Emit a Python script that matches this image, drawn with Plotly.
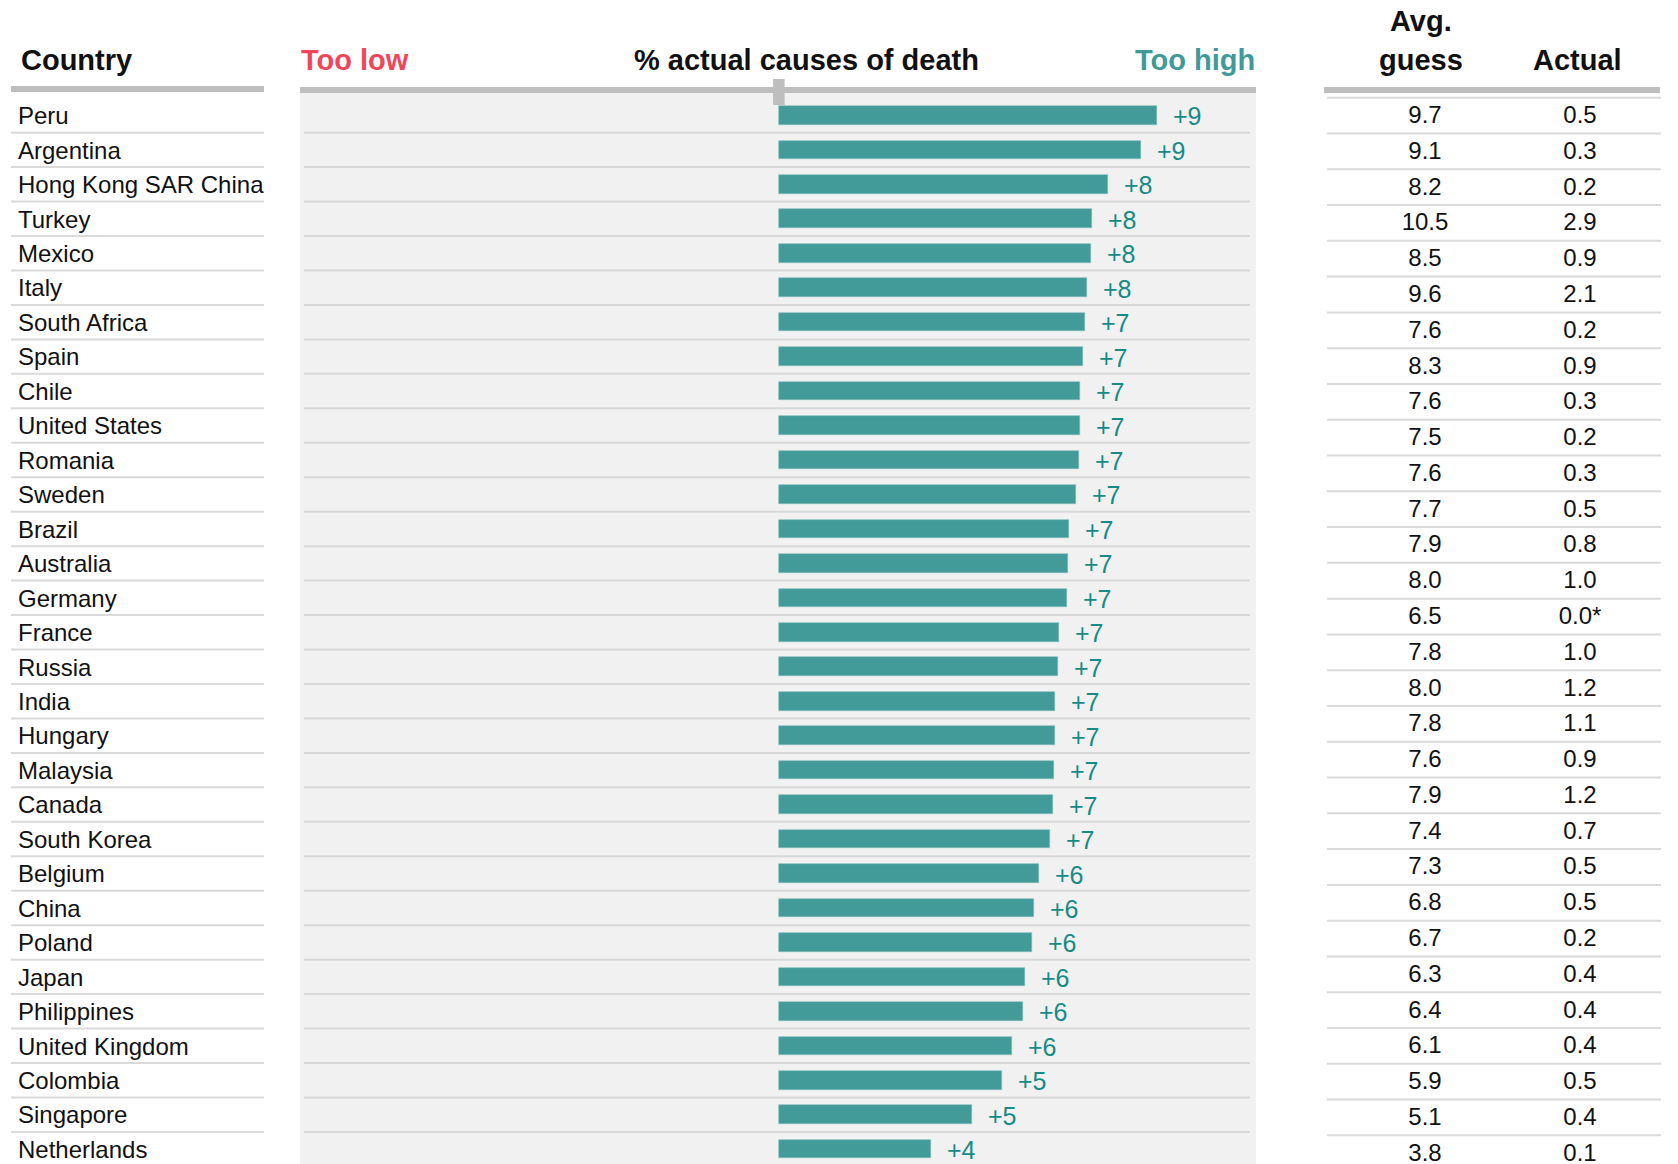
import plotly.graph_objects as go

W, H = 1678, 1164

countries = ["Peru", "Argentina", "Hong Kong SAR China", "Turkey", "Mexico", "Italy",
             "South Africa", "Spain", "Chile", "United States", "Romania", "Sweden",
             "Brazil", "Australia", "Germany", "France", "Russia", "India", "Hungary",
             "Malaysia", "Canada", "South Korea", "Belgium", "China", "Poland", "Japan",
             "Philippines", "United Kingdom", "Colombia", "Singapore", "Netherlands"]

# gap between guess and actual, percentage points
gap = [9.2, 8.8, 8.0, 7.63, 7.6, 7.5, 7.45, 7.4, 7.32, 7.32, 7.3, 7.24, 7.06, 7.03,
       7.0, 6.82, 6.8, 6.72, 6.72, 6.7, 6.67, 6.59, 6.33, 6.2, 6.15, 5.99, 5.94,
       5.68, 5.42, 4.71, 3.7]
gap_labels = ["+9", "+9", "+8", "+8", "+8", "+8"] + ["+7"] * 16 + ["+6"] * 6 + ["+5", "+5", "+4"]

avg_guess = [9.7, 9.1, 8.2, 10.5, 8.5, 9.6, 7.6, 8.3, 7.6, 7.5, 7.6, 7.7, 7.9, 8.0, 6.5,
             7.8, 8.0, 7.8, 7.6, 7.9, 7.4, 7.3, 6.8, 6.7, 6.3, 6.4, 6.1, 5.9, 5.1, 3.8]
actual = [0.5, 0.3, 0.2, 2.9, 0.9, 2.1, 0.2, 0.9, 0.3, 0.2, 0.3, 0.5, 0.8, 1.0, 0.0,
          1.0, 1.2, 1.1, 0.9, 1.2, 0.7, 0.5, 0.5, 0.2, 0.4, 0.4, 0.4, 0.5, 0.4, 0.1]
note_row = 14  # the 0.0* entry

FONT = "Liberation Sans, Arial, sans-serif"
TEAL = "#429a99"
TEAL_TXT = "#168a85"
RED = "#f0455a"
GREY = "#bebebe"
SEP = "#dadada"
PANEL = "#f1f1f1"


def px(x):
    return x / W


def py(y):
    return 1 - y / H


rows = list(range(len(countries)))
trows = list(range(len(avg_guess)))
text_drop = 0.08  # text sits a touch lower than the row centre

fig = go.Figure()

fig.add_trace(go.Bar(
    x=gap, y=rows, orientation="h", width=0.54,
    marker=dict(color=TEAL, line=dict(color="#7fbcbb", width=0.6)),
    hoverinfo="skip", xaxis="x", yaxis="y",
))

fig.add_trace(go.Scatter(
    x=[18] * len(countries), y=[r + text_drop for r in rows], mode="text", text=countries,
    textposition="middle right", textfont=dict(family=FONT, size=24, color="#111111"),
    xaxis="x2", yaxis="y", hoverinfo="skip",
))

fig.add_trace(go.Scatter(
    x=[1425] * len(avg_guess), y=[r + 0.04 for r in trows], mode="text",
    text=[f"{v:.1f}" for v in avg_guess],
    textposition="middle center", textfont=dict(family=FONT, size=24, color="#111111"),
    xaxis="x2", yaxis="y2", hoverinfo="skip",
))

fig.add_trace(go.Scatter(
    x=[1580] * len(actual), y=[r + 0.04 for r in trows], mode="text",
    text=[f"{v:.1f}" + ("*" if i == note_row else "") for i, v in enumerate(actual)],
    textposition="middle center", textfont=dict(family=FONT, size=24, color="#111111"),
    xaxis="x2", yaxis="y2", hoverinfo="skip",
))

shapes = []
# grey panel behind the bars
shapes.append(dict(type="rect", xref="paper", yref="paper", x0=px(300), x1=px(1256),
                   y0=0, y1=py(90), fillcolor=PANEL, line=dict(width=0), layer="below"))
# row separators
for i in range(len(countries) - 1):
    shapes.append(dict(type="line", xref="paper", yref="y", x0=px(11), x1=px(264),
                       y0=i + 0.5, y1=i + 0.5, line=dict(color=SEP, width=2), layer="below"))
    shapes.append(dict(type="line", xref="paper", yref="y", x0=px(304), x1=px(1250),
                       y0=i + 0.5, y1=i + 0.5, line=dict(color="#d8d8d8", width=2), layer="below"))
for i in range(len(avg_guess) + 1):
    shapes.append(dict(type="line", xref="paper", yref="y2", x0=px(1327), x1=px(1661),
                       y0=i - 0.5, y1=i - 0.5, line=dict(color=SEP, width=2), layer="below"))
# thick header rules
for x0, x1, y0, y1 in [(11, 264, 86, 92), (300, 1256, 87, 93), (1324, 1660, 87, 93)]:
    shapes.append(dict(type="rect", xref="paper", yref="paper", x0=px(x0), x1=px(x1),
                       y0=py(y1), y1=py(y0), fillcolor=GREY, line=dict(width=0)))
# zero tick
shapes.append(dict(type="rect", xref="x", yref="paper", x0=-0.14, x1=0.14,
                   y0=py(105), y1=py(79), fillcolor=GREY, line=dict(width=0)))

annotations = []
for i, lab in enumerate(gap_labels):
    annotations.append(dict(x=gap[i], y=i + 0.03, xref="x", yref="y", text=lab,
                            showarrow=False, xanchor="left", yanchor="middle", xshift=14,
                            font=dict(family=FONT, size=25, color=TEAL_TXT)))


def header(text, x, y, anchor, color="#111111"):
    annotations.append(dict(x=px(x), y=py(y), xref="paper", yref="paper", text=f"<b>{text}</b>",
                            showarrow=False, xanchor=anchor, yanchor="middle",
                            font=dict(family=FONT, size=29, color=color)))


header("Country", 19, 60, "left")
header("Too low", 299, 60, "left", RED)
header("% actual causes of death", 806, 60, "center")
header("Too high", 1257, 60, "right", "#3f9a98")
header("Avg.", 1421, 21, "center")
header("guess", 1421, 60, "center")
header("Actual", 1577, 60, "center")

fig.update_layout(
    width=W, height=H,
    margin=dict(l=0, r=0, t=0, b=0),
    paper_bgcolor="white",
    plot_bgcolor="rgba(0,0,0,0)",
    showlegend=False,
    bargap=0,
    shapes=shapes,
    annotations=annotations,
    xaxis=dict(domain=[px(300), px(1256)], range=[-11.65, 11.61], visible=False, fixedrange=True),
    xaxis2=dict(domain=[0, 1], range=[0, W], visible=False, anchor="y", fixedrange=True),
    yaxis=dict(domain=[0, 1], range=[30.43, -3.349], visible=False, anchor="x", fixedrange=True),
    yaxis2=dict(domain=[0, 1], range=[29.30, -3.231], visible=False, anchor="x2",
                overlaying="y", fixedrange=True),
)

# drop the browser's default page margin so the figure sits at the top-left corner
fig.write_html("out.html", config={"displayModeBar": False},
               post_script="document.body.style.margin='0';")
